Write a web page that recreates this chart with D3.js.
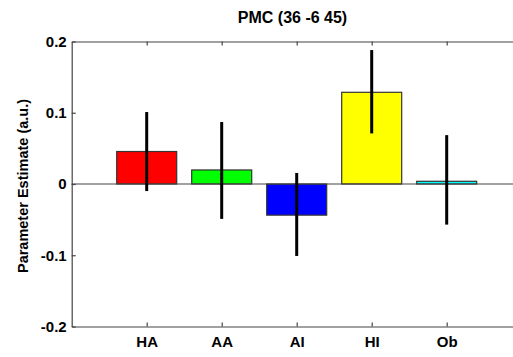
<!DOCTYPE html>
<html><head><meta charset="utf-8">
<script src="https://cdn.jsdelivr.net/npm/d3@7"></script>
<style>
html,body{margin:0;padding:0;background:#fff;}
svg{display:block;}
text{font-family:"Liberation Sans",Arial,sans-serif;font-weight:bold;fill:#000;}
</style></head>
<body>
<svg id="c" width="513" height="357"></svg>
<script>
const categories = ["HA","AA","AI","HI","Ob"];
const values = [0.0456, 0.0197, -0.0437, 0.1287, 0.0038];
const errLow = [-0.0099, -0.049, -0.101, 0.071, -0.057];
const errHigh = [0.101, 0.087, 0.0155, 0.188, 0.0686];
const colors = ["#ff0000","#00ff00","#0000ff","#ffff00","#00ffff"];
const yTicks = [-0.2,-0.1,0,0.1,0.2];
const yTickLabels = ["-0.2","-0.1","0","0.1","0.2"];
const title = "PMC (36 -6 45)";
const yLabel = "Parameter Estimate (a.u.)";

const svg = d3.select("#c");
const x = d3.scaleLinear().domain([0,6]).range([71.7,521.7]);
const y = d3.scaleLinear().domain([-0.2,0.2]).range([326.5,41.5]);
const bw = (x(1)-x(0))*0.8;
const axisColor = "#444";

// bars
svg.append("g").selectAll("rect").data(values).join("rect")
  .attr("x",(d,i)=>x(i+1)-bw/2)
  .attr("width",bw)
  .attr("y",d=>y(Math.max(0,d)))
  .attr("height",d=>Math.abs(y(d)-y(0)))
  .attr("fill",(d,i)=>colors[i])
  .attr("stroke","#333").attr("stroke-width",1.2);

// baseline
svg.append("line").attr("x1",x(0)).attr("x2",x(6)).attr("y1",y(0)).attr("y2",y(0))
  .attr("stroke",axisColor).attr("stroke-width",1.2);

// error bars
svg.append("g").selectAll("line").data(values).join("line")
  .attr("x1",(d,i)=>x(i+1)).attr("x2",(d,i)=>x(i+1))
  .attr("y1",(d,i)=>y(errLow[i])).attr("y2",(d,i)=>y(errHigh[i]))
  .attr("stroke","#000").attr("stroke-width",3);

// axes
const xb = d3.axisBottom(x).tickValues([1,2,3,4,5]).tickFormat(d=>categories[d-1]).tickSizeInner(-4).tickSizeOuter(0).tickPadding(10);
const gxb = svg.append("g").attr("transform",`translate(0,${y(-0.2)})`).call(xb);
const xt = d3.axisTop(x).tickValues([1,2,3,4,5]).tickFormat("").tickSizeInner(-4).tickSizeOuter(0);
const gxt = svg.append("g").attr("transform",`translate(0,${y(0.2)})`).call(xt);
const yl = d3.axisLeft(y).tickValues(yTicks).tickFormat((d,i)=>yTickLabels[i]).tickSizeInner(-4).tickSizeOuter(0).tickPadding(5);
const gyl = svg.append("g").attr("transform",`translate(${x(0)},0)`).call(yl);

[gxb,gxt,gyl].forEach(g=>{
  g.select(".domain").attr("stroke",axisColor).attr("stroke-width",1.2);
  g.selectAll(".tick line").attr("stroke",axisColor).attr("stroke-width",1.2);
  g.selectAll(".tick text").style("font-size","15px").style("font-family","'Liberation Sans',Arial,sans-serif").style("font-weight","bold").attr("fill","#000");
});

svg.append("text").attr("x",292.5).attr("y",23).attr("text-anchor","middle")
  .style("font-size","16px").text(title);
svg.append("text").attr("transform",`translate(28,186) rotate(-90)`).attr("text-anchor","middle")
  .style("font-size","14.5px").text(yLabel);
</script>
</body></html>
